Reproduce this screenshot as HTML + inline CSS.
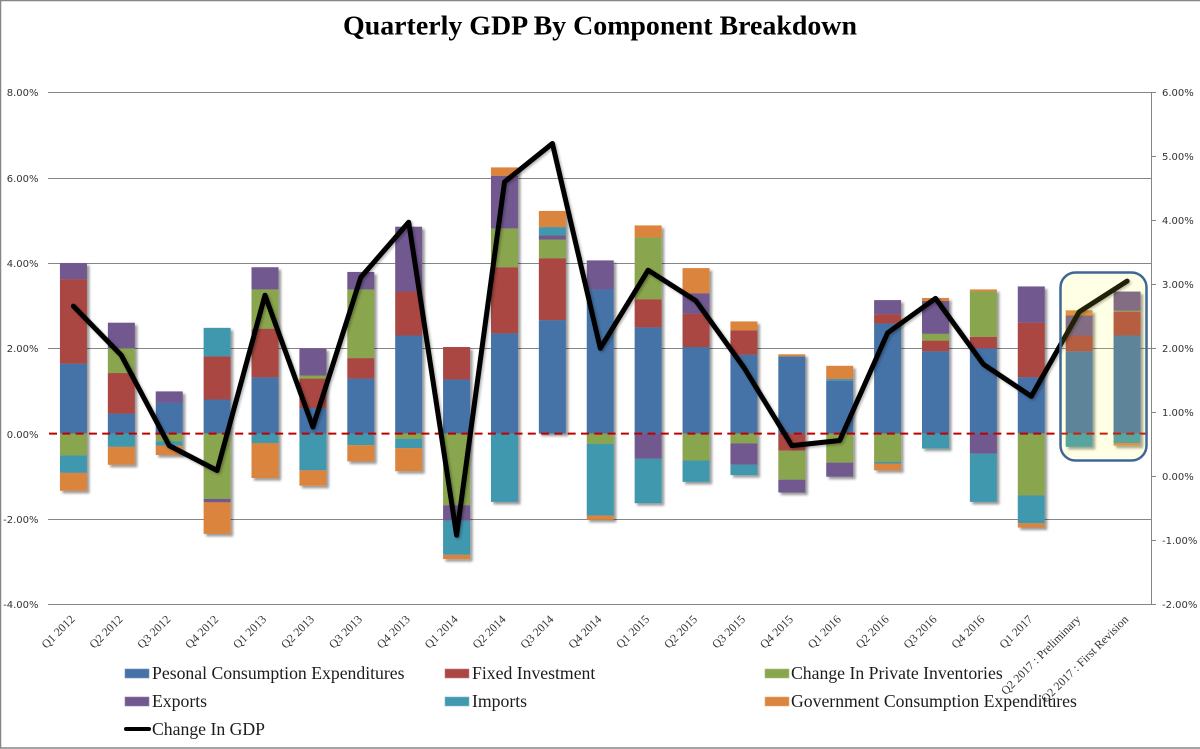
<!DOCTYPE html>
<html lang="en">
<head>
<meta charset="utf-8">
<title>Quarterly GDP By Component Breakdown</title>
<style>
html,body{margin:0;padding:0;background:#fff;width:1200px;height:749px;overflow:hidden}
svg{display:block}
.leg{font:17.7px "Liberation Serif",serif;fill:#1c1c1c}
.ax{font:10px "DejaVu Sans","Liberation Sans",sans-serif;fill:#333}
.xl{font:11.9px "Liberation Serif",serif;fill:#333}
</style>
</head>
<body>
<svg id="chart" xmlns="http://www.w3.org/2000/svg" width="1200" height="749" viewBox="0 0 1200 749">
  <defs>
    <filter id="barShadow" x="-30%" y="-30%" width="160%" height="160%">
      <feDropShadow dx="2.5" dy="2.5" stdDeviation="1.3" flood-color="#000" flood-opacity="0.4"/>
    </filter>
    <filter id="lineShadow" x="-5%" y="-5%" width="110%" height="110%">
      <feDropShadow dx="1.5" dy="1.5" stdDeviation="1.2" flood-color="#000" flood-opacity="0.3"/>
    </filter>
  </defs>
  <rect x="0.5" y="0.5" width="1202" height="747.5" fill="#fff" stroke="#868686" stroke-width="1.5"/>
  <text x="600" y="34.5" text-anchor="middle" style="font:bold 27.9px 'Liberation Serif',serif;fill:#000">Quarterly GDP By Component Breakdown</text>
  <g id="grid"></g>
  <g id="leftAxis"></g>
  <g id="rightAxis"></g>
  <g id="bars"></g>
  <line id="zeroLine" stroke="#c00000" stroke-width="2" stroke-dasharray="8 5.3"/>
  <polyline id="gdpLine" fill="none" stroke="#000" stroke-width="5" stroke-linejoin="round" stroke-linecap="round" filter="url(#lineShadow)"/>
  <rect x="1060.5" y="272.5" width="86" height="188" rx="15" ry="15" fill="#ffff3c" fill-opacity="0.13" stroke="#3f6796" stroke-width="2.5"/>
  <g id="xLabels"></g>
  <g>
    <g>
      <rect x="125" y="669" width="24" height="9" fill="#4572a7" stroke="#6f93bd" stroke-width="0.6"/>
      <text class="leg" x="152" y="679">Pesonal Consumption Expenditures</text>
    </g>
    <g>
      <rect x="445" y="669" width="24" height="9" fill="#aa4643" stroke="#c77f7d" stroke-width="0.6"/>
      <text class="leg" x="472" y="679">Fixed Investment</text>
    </g>
    <g>
      <rect x="765" y="669" width="24" height="9" fill="#89a54e" stroke="#aac27a" stroke-width="0.6"/>
      <text class="leg" x="791" y="679">Change In Private Inventories</text>
    </g>
    <g>
      <rect x="125" y="697" width="24" height="9" fill="#71588f" stroke="#9680b0" stroke-width="0.6"/>
      <text class="leg" x="152" y="707">Exports</text>
    </g>
    <g>
      <rect x="445" y="697" width="24" height="9" fill="#4198af" stroke="#7dbccd" stroke-width="0.6"/>
      <text class="leg" x="472" y="707">Imports</text>
    </g>
    <g>
      <rect x="765" y="697" width="24" height="9" fill="#db843d" stroke="#e8aa78" stroke-width="0.6"/>
      <text class="leg" x="791" y="707">Government Consumption Expenditures</text>
    </g>
    <g>
      <line x1="126" y1="729" x2="149" y2="729" stroke="#000" stroke-width="4" stroke-linecap="round"/>
      <text class="leg" x="152" y="735">Change In GDP</text>
    </g>
  </g>
</svg>
<script>
const categories = ["Q1 2012","Q2 2012","Q3 2012","Q4 2012","Q1 2013","Q2 2013","Q3 2013","Q4 2013","Q1 2014","Q2 2014","Q3 2014","Q4 2014","Q1 2015","Q2 2015","Q3 2015","Q4 2015","Q1 2016","Q2 2016","Q3 2016","Q4 2016","Q1 2017","Q2 2017 : Preliminary","Q2 2017 : First Revision"];
const personalConsumption = [1.64,0.47,0.72,0.80,1.32,0.60,1.29,2.30,1.27,2.35,2.66,3.38,2.49,2.03,1.85,1.81,1.24,2.58,1.93,2.00,1.32,1.93,2.30];
const fixedInvestment = [1.98,0.95,0,1.01,1.14,0.69,0.48,1.03,0.76,1.55,1.45,0,0.66,0.78,0.57,-0.40,0,0.22,0.25,0.27,1.28,0.37,0.56];
const privateInventories = [-0.51,0.58,-0.18,-1.53,0.92,0.07,1.61,-0.12,-1.68,0.91,0.44,-0.24,1.45,-0.63,-0.23,-0.68,-0.68,-0.66,0.16,1.06,-1.45,0,0.02];
const exportsValues = [0.38,0.60,0.27,-0.08,0.52,0.64,0.41,1.52,-0.36,1.23,0.10,0.68,-0.59,0.48,-0.50,-0.30,-0.33,0.33,0.77,-0.47,0.85,0.47,0.45];
const importsValues = [-0.41,-0.31,-0.10,0.67,-0.22,-0.86,-0.27,-0.22,-0.80,-1.60,0.19,-1.68,-1.04,-0.50,-0.24,0,0.04,-0.04,-0.35,-1.13,-0.65,-0.31,-0.22];
const governmentConsumption = [-0.42,-0.42,-0.22,-0.74,-0.82,-0.36,-0.38,-0.54,-0.10,0.20,0.38,-0.10,0.28,0.59,0.21,0.05,0.31,-0.16,0.07,0.05,-0.10,0.12,-0.06];
const changeInGdp = [2.66,1.89,0.48,0.09,2.83,0.77,3.11,3.97,-0.92,4.60,5.20,2.00,3.22,2.74,1.70,0.48,0.56,2.24,2.78,1.75,1.25,2.57,3.05];
const leftTicks = [8,6,4,2,0,-2,-4];
const rightTicks = [6,5,4,3,2,1,0,-1,-2];
const seriesNames = ["personal-consumption","fixed-investment","private-inventories","exports","imports","government-consumption"];
const seriesColors = ["#4572a7","#aa4643","#89a54e","#71588f","#4198af","#db843d"];
const seriesValues = [personalConsumption,fixedInvestment,privateInventories,exportsValues,importsValues,governmentConsumption];

const NS = "http://www.w3.org/2000/svg";
const plotLeft = 49.5, plotRight = 1151, plotTop = 92.3, plotBottom = 604.3;
const band = (plotRight - plotLeft) / categories.length;
const barWidth = 27;
function xCenter(i){ return plotLeft + band * (i + 0.5); }
function yLeft(v){ return plotTop + (8 - v) * (plotBottom - plotTop) / 12; }
function yRight(v){ return plotTop + (6 - v) * (plotBottom - plotTop) / 8; }
function make(tag, attrs, parent){
  const el = document.createElementNS(NS, tag);
  for (const k in attrs) el.setAttribute(k, attrs[k]);
  parent.appendChild(el);
  return el;
}

const grid = document.getElementById("grid");
const leftAxis = document.getElementById("leftAxis");
const rightAxis = document.getElementById("rightAxis");
leftTicks.forEach(function(v){
  const y = Math.round(yLeft(v)) + 0.5;
  if (v !== 0) {
    const g = make("line", {x1: 48, x2: plotRight, y1: y, y2: y, stroke: "#868686", "stroke-width": 1}, grid);
    
    
  }
  const t = make("text", {x: 38.5, y: y + 3.5, "text-anchor": "end", class: "ax"}, leftAxis);
  
  
  t.textContent = v.toFixed(2) + "%";
});
const axisLine = make("line", {x1: plotRight + 0.5, x2: plotRight + 0.5, y1: yRight(6), y2: yRight(-2), stroke: "#868686", "stroke-width": 1}, rightAxis);


rightTicks.forEach(function(v){
  const y = Math.round(yRight(v)) + 0.5;
  const m = make("line", {x1: plotRight, x2: plotRight + 5, y1: y, y2: y, stroke: "#868686", "stroke-width": 1}, rightAxis);
  
  
  const t = make("text", {x: 1162, y: y + 3.5, class: "ax"}, rightAxis);
  
  
  t.textContent = v.toFixed(2) + "%";
});

const barsRoot = document.getElementById("bars");
categories.forEach(function(cat, i){
  const stack = make("g", {filter: "url(#barShadow)"}, barsRoot);
  
  
  let pos = 0, neg = 0;
  seriesValues.forEach(function(vals, s){
    const v = vals[i];
    if (!v) return;
    const start = v > 0 ? pos : neg;
    const end = start + v;
    if (v > 0) pos = end; else neg = end;
    const y1 = yLeft(Math.max(start, end));
    const y2 = yLeft(Math.min(start, end));
    const r = make("rect", {x: xCenter(i) - barWidth / 2, y: y1, width: barWidth, height: y2 - y1, fill: seriesColors[s]}, stack);
    
    
  });
});

const zero = document.getElementById("zeroLine");
zero.setAttribute("x1", 49);
zero.setAttribute("x2", plotRight);
zero.setAttribute("y1", yLeft(0));
zero.setAttribute("y2", yLeft(0));

document.getElementById("gdpLine").setAttribute("points", changeInGdp.map(function(v, i){
  return xCenter(i).toFixed(1) + "," + yRight(v).toFixed(1);
}).join(" "));

const xLabels = document.getElementById("xLabels");
categories.forEach(function(cat, i){
  const x = xCenter(i) + 2, y = 620;
  const t = make("text", {x: x, y: y, "text-anchor": "end", class: "xl", transform: "rotate(-45 " + x.toFixed(1) + " " + y + ")"}, xLabels);
  
  
  t.textContent = cat;
});
</script>
</body>
</html>
